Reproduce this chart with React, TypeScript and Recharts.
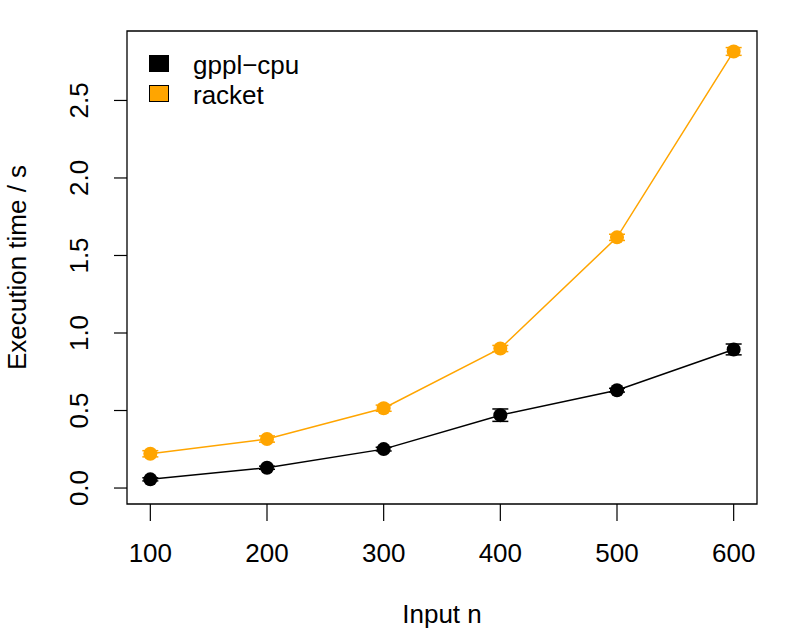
import { LineChart, Line, XAxis, YAxis, ErrorBar, ReferenceArea } from "recharts";

const inputN = [100, 200, 300, 400, 500, 600];
const gpplCpu = [0.056, 0.131, 0.251, 0.47, 0.631, 0.894];
const gpplCpuErr = [0.01, 0.01, 0.012, 0.04, 0.012, 0.035];
const racket = [0.221, 0.316, 0.515, 0.9, 1.617, 2.816];
const racketErr = [0.02, 0.02, 0.02, 0.02, 0.02, 0.025];
const xTicks = [100, 200, 300, 400, 500, 600];
const yTicks = [0, 0.5, 1, 1.5, 2, 2.5];
const legendItems = [
  { name: "gppl\u2212cpu", color: "#000000" },
  { name: "racket", color: "#FFA500" },
];

const rows = inputN.map((n, i) => ({
  n,
  cpu: gpplCpu[i],
  cpuErr: gpplCpuErr[i],
  racket: racket[i],
  racketErr: racketErr[i],
}));

const FONT = "'Liberation Sans', Arial, Helvetica, sans-serif";
const FS = 26;
const X_DOMAIN: [number, number] = [80, 620];
const Y_DOMAIN: [number, number] = [-0.103, 2.948];

function XTick(props: any) {
  const { x, y, payload } = props;
  return (
    <text x={x} y={y + 39} textAnchor="middle" fontSize={FS} fontFamily={FONT} fill="#000">
      {payload.value}
    </text>
  );
}

function YTick(props: any) {
  const { x, y, payload } = props;
  const tx = x - 24;
  return (
    <text
      x={tx}
      y={y}
      textAnchor="middle"
      fontSize={FS}
      fontFamily={FONT}
      fill="#000"
      transform={`rotate(-90, ${tx}, ${y})`}
    >
      {Number(payload.value).toFixed(1)}
    </text>
  );
}

export default function App() {
  return (
    <div style={{ position: "absolute", left: 0, top: 0, width: 789, height: 631, background: "#fff" }}>
      <LineChart width={789} height={631} data={rows} margin={{ top: 31, right: 32, left: 0, bottom: 0 }}>
        <XAxis
          dataKey="n"
          type="number"
          domain={X_DOMAIN}
          ticks={xTicks}
          axisLine={false}
          tickSize={17}
          tickLine={{ stroke: "#000", strokeWidth: 1.2 }}
          tick={<XTick />}
          height={127}
          label={(p: any) => {
            const vb = p.viewBox;
            return (
              <text x={vb.x + vb.width / 2} y={623} textAnchor="middle" fontSize={FS} fontFamily={FONT} fill="#000">
                Input n
              </text>
            );
          }}
        />
        <YAxis
          type="number"
          domain={Y_DOMAIN}
          ticks={yTicks}
          allowDataOverflow
          axisLine={false}
          tickSize={13}
          tickLine={{ stroke: "#000", strokeWidth: 1.2 }}
          tick={<YTick />}
          width={127}
          label={(p: any) => {
            const vb = p.viewBox;
            const cy = vb.y + vb.height / 2;
            return (
              <text
                x={26}
                y={cy}
                textAnchor="middle"
                fontSize={FS}
                fontFamily={FONT}
                fill="#000"
                transform={`rotate(-90, 26, ${cy})`}
              >
                Execution time / s
              </text>
            );
          }}
        />
        <ReferenceArea
          x1={X_DOMAIN[0]}
          x2={X_DOMAIN[1]}
          y1={Y_DOMAIN[0]}
          y2={Y_DOMAIN[1]}
          fill="none"
          fillOpacity={0}
          stroke="#000"
          strokeWidth={1.3}
          ifOverflow="visible"
        />
        <Line
          dataKey="cpu"
          stroke="#000"
          strokeWidth={1.5}
          dot={{ r: 7, fill: "#000", stroke: "none" }}
          activeDot={false}
          isAnimationActive={false}
        >
          <ErrorBar dataKey="cpuErr" direction="y" width={8} stroke="#000" strokeWidth={1.5} isAnimationActive={false} />
        </Line>
        <Line
          dataKey="racket"
          stroke="#FFA500"
          strokeWidth={1.5}
          dot={{ r: 7, fill: "#FFA500", stroke: "none" }}
          activeDot={false}
          isAnimationActive={false}
        >
          <ErrorBar dataKey="racketErr" direction="y" width={8} stroke="#FFA500" strokeWidth={1.5} isAnimationActive={false} />
        </Line>
      </LineChart>
      <svg width={200} height={80} style={{ position: "absolute", left: 140, top: 45 }}>
        {legendItems.map((it, i) => (
          <g key={it.name}>
            <rect x={9.5} y={10.5 + i * 30} width={19} height={16} fill={it.color} stroke="#000" strokeWidth={1} />
            <text x={53} y={29 + i * 30} fontSize={FS} fontFamily={FONT} fill="#000">
              {it.name}
            </text>
          </g>
        ))}
      </svg>
    </div>
  );
}
